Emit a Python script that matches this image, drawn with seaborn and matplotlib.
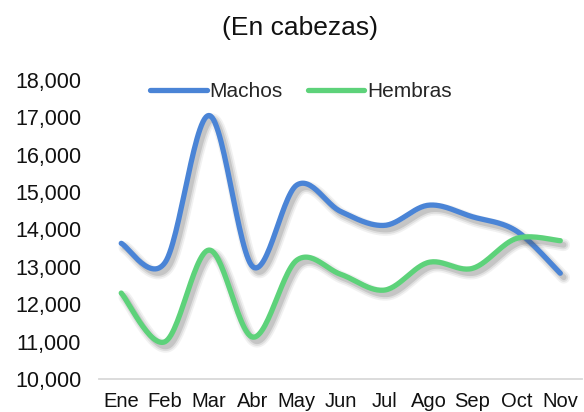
import numpy as np
import matplotlib
matplotlib.use("Agg")
import matplotlib.pyplot as plt
import matplotlib.patheffects as pe
from matplotlib.ticker import FuncFormatter
import seaborn as sns

# ---------------------------- DATA ----------------------------
meses = ['Ene', 'Feb', 'Mar', 'Abr', 'May', 'Jun', 'Jul', 'Ago', 'Sep', 'Oct', 'Nov']
machos = [13630, 13120, 17050, 13000, 15190, 14480, 14110, 14650, 14340, 13960, 12830]
hembras = [12300, 11000, 13450, 11120, 13180, 12800, 12380, 13120, 12960, 13760, 13700]

azul = '#4a84d6'
verde = '#5dd27a'


# >>> Excel-like smoothed line (Catmull-Rom as cubic bezier)
def suavizar(xs, ys, n=30):
    p = np.column_stack([xs, ys]).astype(float)
    out = []
    for i in range(len(p) - 1):
        p0 = p[i - 1] if i > 0 else p[i]
        p1, p2 = p[i], p[i + 1]
        p3 = p[i + 2] if i + 2 < len(p) else p[i + 1]
        c1 = p1 + (p2 - p0) / 6
        c2 = p2 - (p3 - p1) / 6
        t = np.linspace(0, 1, n)[:, None]
        seg = (1 - t) ** 3 * p1 + 3 * (1 - t) ** 2 * t * c1 + 3 * (1 - t) * t ** 2 * c2 + t ** 3 * p2
        out.append(seg if i == 0 else seg[1:])
    out = np.vstack(out)
    return out[:, 0], out[:, 1]


sns.set_theme(style='white')
plt.rcParams['font.family'] = ['Liberation Sans', 'DejaVu Sans']

fig = plt.figure(figsize=(5.84, 4.12), dpi=100)
ax = fig.add_axes([0.170, 0.080, 0.827, 0.726])

x = np.arange(len(meses))
# soft drop shadow, built from a few faint offset strokes
sombra = [pe.SimpleLineShadow(offset=(2.5, -3), shadow_color='#555555', alpha=0.08, linewidth=9),
          pe.SimpleLineShadow(offset=(2.5, -3), shadow_color='#555555', alpha=0.12, linewidth=6.5),
          pe.SimpleLineShadow(offset=(2.5, -3), shadow_color='#555555', alpha=0.18, linewidth=4),
          pe.Normal()]

for serie, color, nombre in [(machos, azul, 'Machos'), (hembras, verde, 'Hembras')]:
    sx, sy = suavizar(x, serie)
    sns.lineplot(x=sx, y=sy, sort=False, color=color, linewidth=3.8, ax=ax,
                 label=nombre, path_effects=sombra, solid_capstyle='round')

ax.set_xlim(-0.5, len(meses) - 0.5)
ax.set_ylim(10000, 18000)
ax.set_yticks(range(10000, 18001, 1000))
ax.yaxis.set_major_formatter(FuncFormatter(lambda v, p: f'{int(v):,}'))
ax.set_xticks(x)
ax.set_xticklabels(meses)
ax.tick_params(axis='y', labelsize=15.5, length=0, pad=13)
ax.tick_params(axis='x', labelsize=14.5, length=0, pad=9.5)
for lab in ax.get_yticklabels() + ax.get_xticklabels():
    lab.set_color('#111111')

for s in ['top', 'right', 'left']:
    ax.spines[s].set_visible(False)
ax.spines['bottom'].set_color('#d9d9d9')
ax.spines['bottom'].set_linewidth(1.3)

leg = ax.legend(loc='center', bbox_to_anchor=(0.418, 0.96), ncol=2, frameon=False,
                fontsize=15, handlelength=2.7, handletextpad=0.15, columnspacing=1.2)
for h in leg.get_lines():
    h.set_linewidth(3.8)
    h.set_path_effects([])

fig.text(0.513, 0.931, '(En cabezas)', ha='center', va='center', fontsize=19, color='#111111')

fig.savefig('out.png', dpi=100)
